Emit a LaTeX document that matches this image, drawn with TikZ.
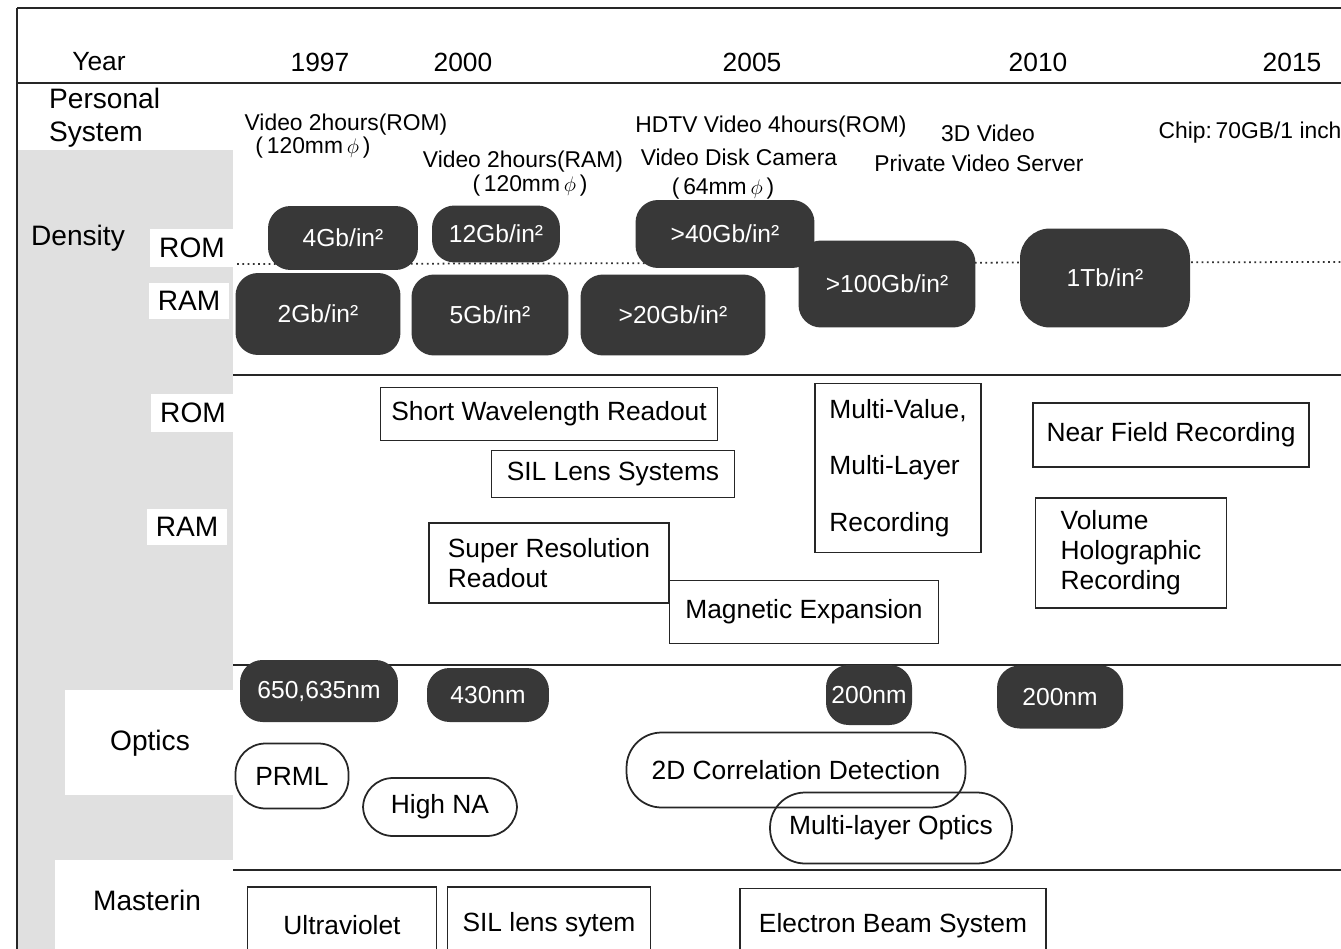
\documentclass[tikz,border=0pt]{standalone}
\usepackage{fontspec}
\setmainfont{Liberation Sans}
\begin{document}
\begin{tikzpicture}[x=0.02cm,y=-0.02cm,
  rule/.style={line width=1.3pt,draw=black!85},
  darkbox/.style={fill=black!78,text=white,rounded corners=0.45cm,inner sep=0pt,font=\fontsize{14}{16}\selectfont},
  plainbox/.style={draw=black!85,line width=1pt,inner sep=0pt,font=\fontsize{15}{17}\selectfont},
  roundbox/.style={draw=black!85,line width=1pt,rounded corners=0.6cm,inner sep=0pt,font=\fontsize{15}{17}\selectfont},
  rowlabel/.style={fill=white,inner sep=5pt,font=\fontsize{16}{19}\selectfont},
  yearlabel/.style={font=\fontsize{15}{18}\selectfont},
  usetext/.style={inner sep=0pt,font=\fontsize{13}{15}\selectfont}]

\useasboundingbox (0,0) rectangle (1341,949);
\clip (0,0) rectangle (1341,949);
\fill[white] (0,0) rectangle (1341,949);

\fill[black!12] (17,83) rectangle (233,949);
\fill[white] (17,83) rectangle (233,150);
\fill[white] (65,690) rectangle (233,795);
\fill[white] (55,860) rectangle (233,949);

\draw[rule] (17,8) -- (1341,8);
\draw[rule] (17,8) -- (17,949);
\draw[rule] (17,83) -- (1341,83);
\foreach \y in {375,665,870}
{
    \draw[rule] (233,\y) -- (1341,\y);
}
\draw[black!80,line width=1pt,dotted] (237,264) -- (1341,262);

\node[yearlabel] (year) at (99,62) {Year};
\foreach \yr/\x in {1997/320,2000/463,2005/752,2010/1038,2015/1292}
{
    \node[yearlabel] (y\yr) at (\x,62) {\yr};
}

\node[rowlabel,align=left,fill=none,anchor=west] (personal) at (40,118) {Personal\\System};
\node[rowlabel,fill=none] (density) at (78,238) {Density};
\node[rowlabel] (drom) at (192,248) {ROM};
\node[rowlabel] (dram) at (189,301) {RAM};
\node[rowlabel] (trom) at (193,413) {ROM};
\node[rowlabel] (tram) at (187,527) {RAM};
\node[rowlabel,fill=none] (optics) at (150,743) {Optics};
\node[rowlabel,fill=none] (master) at (147,900) {Masterin};

\node[usetext] (vrom) at (346,125) {Video 2hours(ROM)};
\node[usetext] (vromd) at (313,148) {(\,120mm\,$\phi$\,)};
\node[usetext] (vram) at (523,162) {Video 2hours(RAM)};
\node[usetext] (vramd) at (530,186) {(\,120mm\,$\phi$\,)};
\node[usetext] (hdtv) at (771,127) {HDTV Video 4hours(ROM)};
\node[usetext] (camera) at (739,157) {Video Disk Camera};
\node[usetext] (camerad) at (723,189) {(\,64mm\,$\phi$\,)};
\node[usetext] (video3d) at (988,133) {3D Video};
\node[usetext] (server) at (979,163) {Private Video Server};
\node[usetext] (chip) at (1250,133) {Chip:\,70GB/1 inch};

\node[darkbox,minimum width=3.0cm,minimum height=1.28cm] (d4) at (343,238) {4Gb/in²};
\node[darkbox,minimum width=2.56cm,minimum height=1.14cm] (d12) at (496,234) {12Gb/in²};
\node[darkbox,minimum width=3.58cm,minimum height=1.36cm] (d40) at (725,234) {>40Gb/in²};
\node[darkbox,minimum width=3.3cm,minimum height=1.64cm] (d2) at (318,314) {2Gb/in²};
\node[darkbox,minimum width=3.14cm,minimum height=1.62cm] (d5) at (490,315) {5Gb/in²};
\node[darkbox,minimum width=3.7cm,minimum height=1.62cm] (d20) at (673,315) {>20Gb/in²};
\node[darkbox,minimum width=3.54cm,minimum height=1.74cm] (d100) at (887,284) {>100Gb/in²};
\node[darkbox,minimum width=3.4cm,minimum height=1.98cm,rounded corners=0.6cm] (d1t) at (1105,278) {1Tb/in²};

\node[plainbox,minimum width=6.74cm,minimum height=1.06cm] (shortwave) at (549,414) {Short Wavelength Readout};
\node[plainbox,minimum width=4.86cm,minimum height=0.94cm] (sillens) at (613,474) {SIL Lens Systems};
\node[plainbox,minimum width=3.32cm,minimum height=3.38cm,align=left,font=\fontsize{15}{32}\selectfont] (multival) at (898,468) {Multi-Value,\\Multi-Layer\\Recording};
\node[plainbox,minimum width=5.52cm,minimum height=1.28cm] (nearfield) at (1171,435) {Near Field Recording};
\node[plainbox,minimum width=4.8cm,minimum height=1.6cm,align=left] (superres) at (549,563) {Super Resolution\\Readout};
\node[plainbox,minimum width=5.38cm,minimum height=1.26cm] (magnetic) at (804,612) {Magnetic Expansion};
\node[plainbox,minimum width=3.82cm,minimum height=2.2cm,align=left] (volume) at (1131,553) {Volume\\Holographic\\Recording};

\node[darkbox,minimum width=3.16cm,minimum height=1.24cm] (o650) at (319,691) {650,635nm};
\node[darkbox,minimum width=2.44cm,minimum height=1.08cm] (o430) at (488,695) {430nm};
\node[darkbox,minimum width=1.72cm,minimum height=1.2cm] (o200a) at (869,695) {200nm};
\node[darkbox,minimum width=2.52cm,minimum height=1.26cm] (o200b) at (1060,697) {200nm};

\node[roundbox,minimum width=2.26cm,minimum height=1.3cm] (prml) at (292,776) {PRML};
\node[roundbox,minimum width=3.08cm,minimum height=1.16cm] (highna) at (440,807) {High NA};
\node[roundbox,minimum width=6.78cm,minimum height=1.5cm,rounded corners=0.7cm] (corr2d) at (796,770) {2D Correlation Detection};
\node[roundbox,minimum width=4.84cm,minimum height=1.42cm,rounded corners=0.7cm] (multiopt) at (891,828) {Multi-layer Optics};

\node[plainbox,minimum width=3.78cm,minimum height=1.52cm] (ultra) at (342,925) {Ultraviolet};
\node[plainbox,minimum width=4.06cm,minimum height=1.52cm] (silsys) at (549,925) {SIL lens sytem};
\node[plainbox,minimum width=6.12cm,minimum height=1.5cm] (ebeam) at (893,926) {Electron Beam System};

\end{tikzpicture}
\end{document}
